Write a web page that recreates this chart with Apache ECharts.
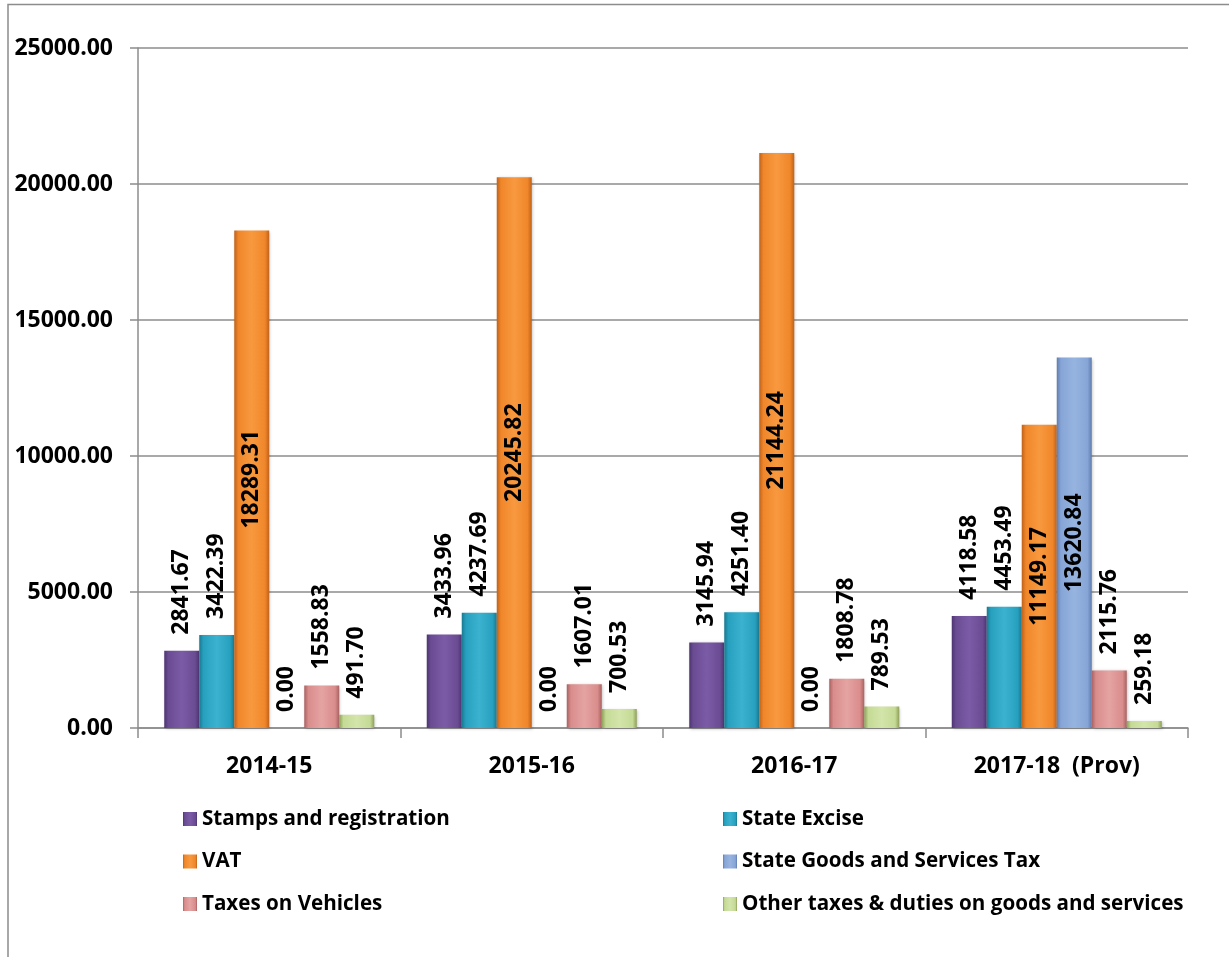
<!DOCTYPE html>
<html>
<head>
<meta charset="utf-8">
<title>Tax revenue by head</title>
<script src="https://cdn.jsdelivr.net/npm/echarts@6/dist/echarts.min.js"></script>
<style>
  html, body { margin: 0; padding: 0; background: #ffffff; }
  #chart { width: 1229px; height: 957px; }
</style>
</head>
<body>
<div id="chart"></div>
<script>
// Financial years on the category axis
const years = ['2014-15', '2015-16', '2016-17', '2017-18  (Prov)'];

// Revenue by tax head, one value per year
const stampsAndRegistration = [2841.67, 3433.96, 3145.94, 4118.58];
const stateExcise = [3422.39, 4237.69, 4251.40, 4453.49];
const vat = [18289.31, 20245.82, 21144.24, 11149.17];
const stateGST = [0, 0, 0, 13620.84];
const taxesOnVehicles = [1558.83, 1607.01, 1808.78, 2115.76];
const otherTaxes = [491.70, 700.53, 789.53, 259.18];

// Value axis range
const yMin = 0, yMax = 25000, yStep = 5000;

// Bevelled-looking fill: darker edges, lighter centre
function bevel(edge, base, light) {
  return new echarts.graphic.LinearGradient(0, 0, 1, 0, [
    { offset: 0, color: edge },
    { offset: 0.12, color: base },
    { offset: 0.5, color: light },
    { offset: 0.88, color: base },
    { offset: 1, color: edge }
  ]);
}

const seriesDefs = [
  { name: 'Stamps and registration', data: stampsAndRegistration, c: ['#4e3472', '#6a4c93', '#7b5ba6'] },
  { name: 'State Excise', data: stateExcise, c: ['#1a7990', '#27a0bf', '#3bb2cf'] },
  { name: 'VAT', data: vat, c: ['#c0621a', '#f0862a', '#f8993f'] },
  { name: 'State Goods and Services Tax', data: stateGST, c: ['#5f7cad', '#86a5d6', '#97b4e0'] },
  { name: 'Taxes on Vehicles', data: taxesOnVehicles, c: ['#a86261', '#d98d8c', '#e4a3a2'] },
  { name: 'Other taxes & duties on goods and services', data: otherTaxes, c: ['#8ea05a', '#c5da95', '#d3e5aa'] }
];

const labelFont = { fontFamily: 'Open Sans', fontWeight: 'bold', fontSize: 23, color: '#000000' };

// Tall bars carry their value centred inside; the rest sit above the bar
function labelFor(v) {
  if (v > 10000) return { position: 'inside', align: 'center', verticalAlign: 'middle' };
  return { position: 'top', align: 'left', verticalAlign: 'middle', distance: 16 };
}

const series = seriesDefs.map(s => ({
  name: s.name,
  type: 'bar',
  barWidth: 35,
  barGap: '0%',
  itemStyle: {
    color: bevel(s.c[0], s.c[1], s.c[2]),
    shadowColor: 'rgba(0,0,0,0.25)',
    shadowBlur: 3,
    shadowOffsetX: 1,
    shadowOffsetY: 1
  },
  data: s.data.map(v => ({ value: v, label: labelFor(v) })),
  label: Object.assign({
    show: true,
    rotate: 90,
    formatter: p => Number(p.value).toFixed(2)
  }, labelFont)
}));

const legendText = { fontFamily: 'Open Sans', fontWeight: 'bold', fontSize: 20.6, color: '#000000', lineHeight: 22 };

const option = {
  backgroundColor: '#ffffff',
  animation: false,
  grid: { left: 138, right: 41, top: 48, bottom: 229, containLabel: false },
  legend: [
    {
      orient: 'vertical', left: 183, top: 808, padding: 0,
      itemWidth: 14, itemHeight: 14, itemGap: 20.5,
      icon: 'rect',
      data: ['Stamps and registration', 'VAT', 'Taxes on Vehicles'],
      textStyle: legendText
    },
    {
      orient: 'vertical', left: 723, top: 808, padding: 0,
      itemWidth: 14, itemHeight: 14, itemGap: 20.5,
      icon: 'rect',
      data: ['State Excise', 'State Goods and Services Tax', 'Other taxes & duties on goods and services'],
      textStyle: legendText
    }
  ],
  xAxis: {
    type: 'category',
    data: years,
    axisLine: { show: true, lineStyle: { color: '#8c8c8c', width: 1.5 } },
    axisTick: { show: true, length: 10, lineStyle: { color: '#8c8c8c', width: 1.5 } },
    axisLabel: Object.assign({ margin: 27 }, labelFont)
  },
  yAxis: {
    type: 'value',
    min: yMin, max: yMax, interval: yStep,
    axisLine: { show: true, lineStyle: { color: '#8c8c8c', width: 1.5 } },
    axisTick: { show: true, length: 8, lineStyle: { color: '#8c8c8c', width: 1.5 } },
    splitLine: { show: true, lineStyle: { color: '#8c8c8c', width: 1.5 } },
    axisLabel: Object.assign({ margin: 25, formatter: v => v.toFixed(2) }, labelFont)
  },
  graphic: [
    {
      type: 'polyline',
      shape: { points: [[8, 957], [8, 4.5], [1229, 4.5]] },
      style: { stroke: '#8c8c8c', lineWidth: 1.5, fill: null },
      silent: true
    }
  ],
  series: series
};

const chart = echarts.init(document.getElementById('chart'), null, { renderer: 'canvas' });
chart.setOption(option);
</script>
</body>
</html>
